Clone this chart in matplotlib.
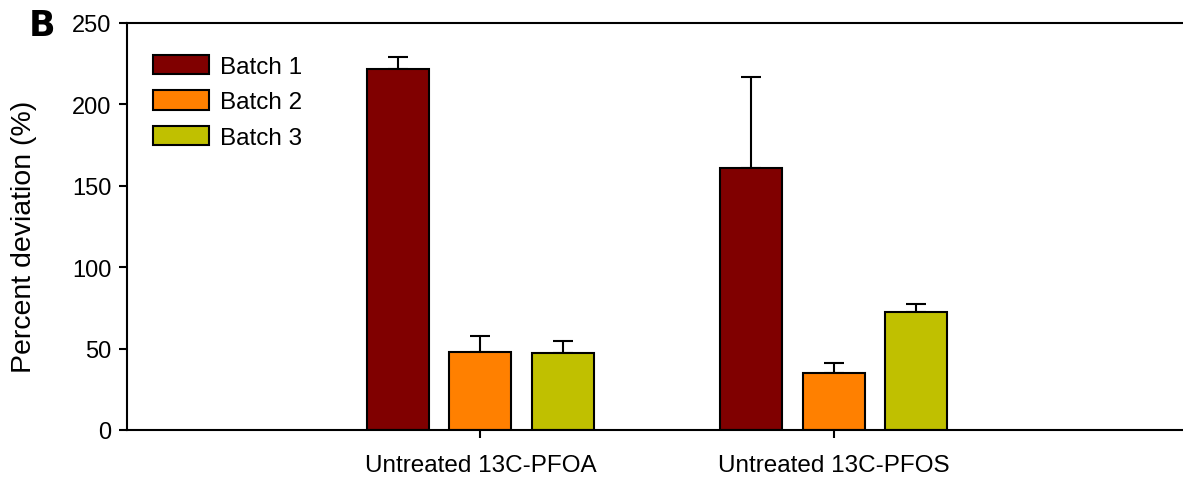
import numpy as np
import matplotlib.pyplot as plt

plt.rcParams['font.family'] = ['Liberation Sans', 'DejaVu Sans']

groups = ['Untreated 13C-PFOA', 'Untreated 13C-PFOS']
batches = ['Batch 1', 'Batch 2', 'Batch 3']
means = {
    'Batch 1': [222, 161],
    'Batch 2': [48, 35],
    'Batch 3': [47.5, 72.5],
}
errs = {
    'Batch 1': [7, 56],
    'Batch 2': [10, 6],
    'Batch 3': [7, 5],
}
colors = ['#800000', '#FF8000', '#C0C000']


def main():
    fig = plt.figure(figsize=(11.83, 4.85), dpi=100)
    ax = fig.add_axes([127 / 1183, 54 / 485, 1060 / 1183, 407 / 485])

    x = np.arange(len(groups))
    w = 0.175
    step = 0.233
    for i, b in enumerate(batches):
        pos = x + (i - 1) * step
        ax.bar(pos, means[b], width=w, color=colors[i], edgecolor='black',
               linewidth=1.5, label=b, zorder=2)
        ax.errorbar(pos, means[b], yerr=[np.zeros(len(groups)), errs[b]],
                    fmt='none', ecolor='black', elinewidth=1.5, capsize=7,
                    capthick=1.5, zorder=1)

    ax.set_xlim(-1.0, 2.0)
    ax.set_ylim(0, 250)
    ax.set_yticks([0, 50, 100, 150, 200, 250])
    ax.set_xticks(x)
    ax.set_xticklabels(groups, fontsize=17.5)
    ax.tick_params(axis='y', labelsize=17, length=6, width=1.5, direction='out', pad=5)
    ax.tick_params(axis='x', length=6, width=1.5, direction='out', pad=11)
    ax.set_ylabel('Percent deviation (%)', fontsize=20.5)
    ax.yaxis.set_label_coords(-0.085, 0.478)

    for s in ['left', 'bottom', 'top']:
        ax.spines[s].set_linewidth(1.5)
    ax.spines['right'].set_visible(False)

    ax.legend(loc='upper left', bbox_to_anchor=(0.004, 0.975), frameon=False,
              fontsize=17.5, handlelength=2.3, handleheight=0.85,
              labelspacing=0.5, handletextpad=0.45)

    fig.text(29 / 1183, 1 - 9 / 485, 'B', fontsize=25, fontweight='bold',
             family='DejaVu Sans', va='top', ha='left')

    fig.savefig('out.png', dpi=100)


if __name__ == "__main__":
    main()
